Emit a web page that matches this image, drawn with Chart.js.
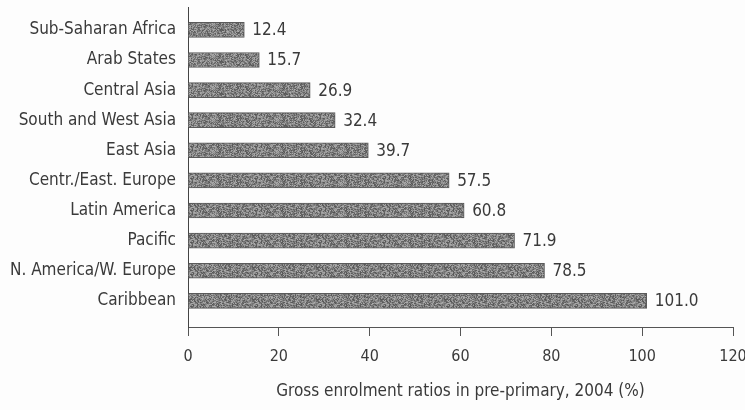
<!DOCTYPE html>
<html>
<head>
<meta charset="utf-8">
<script src="https://cdn.jsdelivr.net/npm/chart.js@4"></script>
<style>
  html, body { margin: 0; padding: 0; background: #fdfdfd; }
  #wrap { width: 745px; height: 410px; }
</style>
</head>
<body>
<div id="wrap"><canvas id="barChart"></canvas></div>
<script>
// data
const regions = [
  "Sub-Saharan Africa", "Arab States", "Central Asia", "South and West Asia",
  "East Asia", "Centr./East. Europe", "Latin America", "Pacific",
  "N. America/W. Europe", "Caribbean"
];
const ratios = [12.4, 15.7, 26.9, 32.4, 39.7, 57.5, 60.8, 71.9, 78.5, 101.0];
const xTicks = [0, 20, 40, 60, 80, 100, 120];
const xTitle = "Gross enrolment ratios in pre-primary, 2004 (%)";

const FONT = "'Liberation Sans Narrow', 'DejaVu Sans Condensed', 'Roboto', sans-serif";
const INK = "#3a3a3a";

// speckled grey fill, a bit like the printed screen (fixed hash, no randomness)
function barFill() {
  const tile = document.createElement("canvas");
  tile.width = 64;
  tile.height = 32;
  const t = tile.getContext("2d");
  let h = 2463534242;
  for (let y = 0; y < 32; y++) {
    for (let x = 0; x < 64; x++) {
      h ^= h << 13; h >>>= 0;
      h ^= h >>> 17;
      h ^= h << 5; h >>>= 0;
      const g = 85 + (h % 90);
      t.fillStyle = "rgb(" + g + "," + g + "," + g + ")";
      t.fillRect(x, y, 1, 1);
    }
  }
  return t.createPattern(tile, "repeat");
}

// value text at the end of each bar
const valueLabels = {
  id: "valueLabels",
  afterDatasetsDraw(chart) {
    const ctx = chart.ctx;
    const meta = chart.getDatasetMeta(0);
    ctx.save();
    ctx.font = "17px " + FONT;
    ctx.fillStyle = INK;
    ctx.textAlign = "left";
    ctx.textBaseline = "middle";
    meta.data.forEach(function (bar, i) {
      ctx.fillText(ratios[i].toFixed(1), bar.x + 8, bar.y + 1);
    });
    ctx.restore();
  }
};

function renderChart() {
  const ctx = document.getElementById("barChart").getContext("2d");
  new Chart(ctx, {
    type: "bar",
    data: {
      datasets: [
        {
          data: ratios.map(function (v, i) { return { x: v, y: i }; }),
          backgroundColor: barFill(),
          borderColor: "#5a5a5a",
          borderWidth: 1,
          barThickness: 15,
        },
      ],
    },
    options: {
      indexAxis: "y",
      responsive: true,
      maintainAspectRatio: false,
      animation: false,
      layout: { padding: { top: 7, right: 12, bottom: 0, left: 0 } },
      plugins: { legend: { display: false }, tooltip: { enabled: false } },
      scales: {
        x: {
          type: "linear",
          min: 0,
          max: 120,
          afterBuildTicks: function (s) {
            s.ticks = xTicks.map(function (v) { return { value: v }; });
          },
          afterFit: function (s) {
            s.height = 83;
            s.paddingLeft = 0;
            s.paddingRight = 0;
          },
          grid: { drawOnChartArea: false, tickLength: 9, color: "#555" },
          border: { color: "#555", width: 1 },
          ticks: { color: INK, font: { family: FONT, size: 16 }, padding: 11 },
          title: {
            display: true,
            text: xTitle,
            color: INK,
            font: { family: FONT, size: 17 },
            padding: { top: 0, bottom: 8 },
          },
        },
        y: {
          type: "linear",
          reverse: true,
          offset: false,
          min: -0.76,
          max: 9.87,
          afterBuildTicks: function (s) {
            s.ticks = regions.map(function (r, i) { return { value: i }; });
          },
          afterFit: function (s) {
            s.width = 188;
            s.paddingTop = 0;
            s.paddingBottom = 0;
          },
          grid: { display: false, drawTicks: false },
          border: { color: "#444", width: 1 },
          ticks: {
            color: INK,
            font: { family: FONT, size: 17 },
            padding: 12,
            callback: function (v) { return regions[v]; },
          },
        },
      },
    },
    plugins: [valueLabels],
  });
}

renderChart();
</script>
</body>
</html>
